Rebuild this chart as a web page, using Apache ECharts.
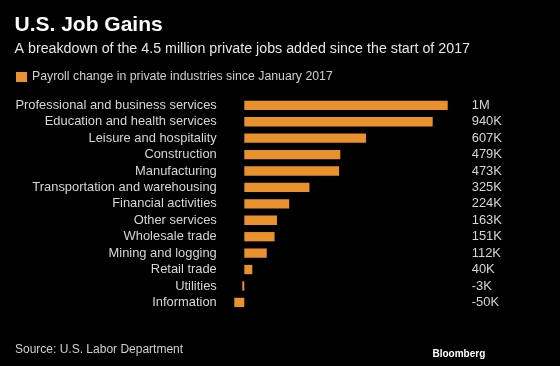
<!DOCTYPE html>
<html><head><meta charset="utf-8">
<script src="https://cdn.jsdelivr.net/npm/echarts@6/dist/echarts.min.js"></script>
<style>html,body{margin:0;padding:0;background:#000;}#c{width:560px;height:366px;}</style>
</head><body><div id="c"></div>
<script>
const categories = ['Professional and business services','Education and health services','Leisure and hospitality','Construction','Manufacturing','Transportation and warehousing','Financial activities','Other services','Wholesale trade','Mining and logging','Retail trade','Utilities','Information'];
const values = [1015, 940, 607, 479, 473, 325, 224, 163, 151, 112, 40, -3, -50];
const valueLabels = ['1M','940K','607K','479K','473K','325K','224K','163K','151K','112K','40K','-3K','-50K'];
const seriesName = 'Payroll change in private industries since January 2017';

const FONT = 'Liberation Sans';
const chart = echarts.init(document.getElementById('c'), null, {renderer:'canvas'});
chart.setOption({
  backgroundColor:'#000',
  animation:false,
  textStyle:{fontFamily:FONT},
  title:[
    {text:'U.S. Job Gains', left:14.5, top:15, padding:0, textStyle:{color:'#fff', fontSize:21, fontWeight:'bold', fontFamily:FONT}},
    {text:'A breakdown of the 4.5 million private jobs added since the start of 2017', left:14.5, top:42, padding:0, textStyle:{color:'#e6e6e6', fontSize:14.25, fontWeight:'normal', fontFamily:FONT}},
    {text:'Source: U.S. Labor Department', left:15, top:343.5, padding:0, textStyle:{color:'#cfcfcf', fontSize:12, fontWeight:'normal', fontFamily:FONT}},
    {text:'Bloomberg', left:432.5, top:349, padding:0, textStyle:{color:'#fff', fontSize:10, fontWeight:'bold', fontFamily:FONT}}
  ],
  legend:{left:16, top:71, padding:0, icon:'rect', itemWidth:11, itemHeight:10, itemGap:6,
    textStyle:{color:'#cfcfcf', fontSize:12.3, fontFamily:FONT}, data:[seriesName]},
  grid:{left:224.26, right:95.24, top:97.1, bottom:55.4, containLabel:false},
  xAxis:{type:'value', min:-100, max:1100, show:false},
  yAxis:[
    {type:'category', data:categories, inverse:true, position:'left',
     axisLine:{show:false, onZero:false}, axisTick:{show:false}, splitLine:{show:false},
     axisLabel:{color:'#d6d6d6', fontSize:12.9, margin:7.5, interval:0, fontFamily:FONT}},
    {type:'category', data:valueLabels, inverse:true, position:'right',
     axisLine:{show:false, onZero:false}, axisTick:{show:false}, splitLine:{show:false},
     axisLabel:{color:'#d6d6d6', fontSize:12.9, margin:7, interval:0, fontFamily:FONT}}
  ],
  series:[{name:seriesName, type:'bar', data:values, barWidth:9.3, barMinHeight:2, yAxisIndex:0,
    itemStyle:{color:'#e8912d'}}]
});
</script></body></html>
